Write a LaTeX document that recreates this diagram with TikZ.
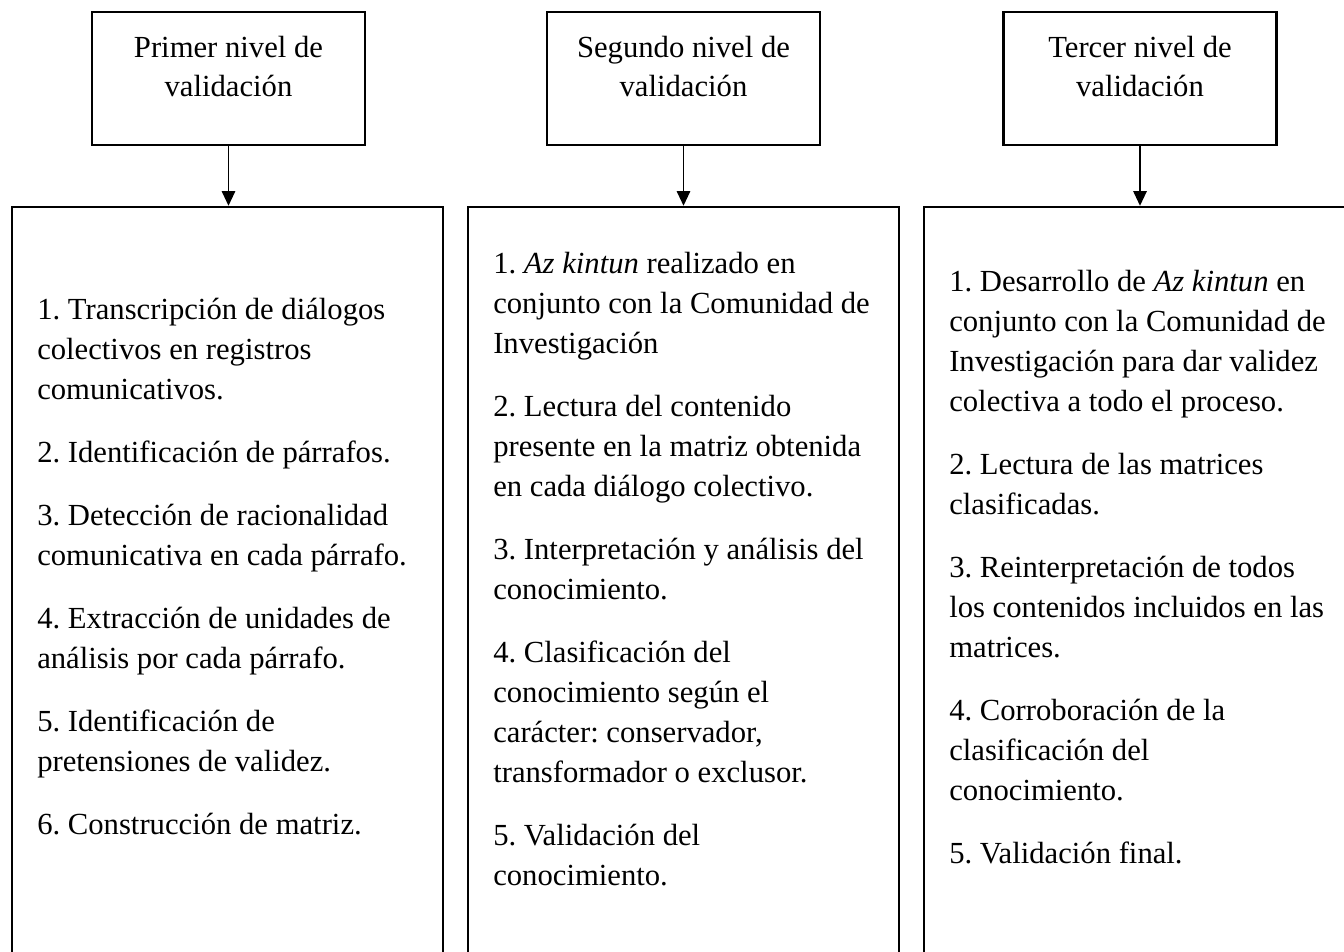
\documentclass[tikz,border=0pt]{standalone}
\usepackage{fontspec}
\setmainfont{Liberation Serif}
\usetikzlibrary{arrows.meta}
\frenchspacing
\begin{document}
\begin{tikzpicture}[x=0.75pt,y=-0.75pt,
 topbox/.style={draw,line width=1.8pt,minimum width=204.75pt,minimum height=99.75pt,inner sep=0pt},
 bigbox/.style={draw,line width=1.8pt,minimum width=323.25pt,minimum height=564.75pt,inner sep=0pt},
 toptext/.style={align=center,font=\fontsize{23}{29.5}\selectfont,inner sep=0pt},
 itemtext/.style={align=left,anchor=north west,font=\fontsize{23}{30}\selectfont,inner sep=0pt},
 link/.style={line width=1.3pt,-{Triangle[width=10pt,length=11pt]}}]
\useasboundingbox (0,0) rectangle (1344,951);
\clip (0,0) rectangle (1344,951);
% top boxes
\node[topbox] (t1) at (228.5,78.5) {};
\node[topbox] (t2) at (683.5,78.5) {};
\node[topbox] (t3) at (1140,78.5) {};
\node[toptext] (h1) at (228.5,66.5) {Primer nivel de\\validación};
\node[toptext] (h2) at (683.5,66.5) {Segundo nivel de\\validación};
\node[toptext] (h3) at (1140,66.5) {Tercer nivel de\\validación};
% bottom boxes
\node[bigbox] (b1) at (227.5,583.5) {};
\node[bigbox] (b2) at (683.5,583.5) {};
\node[bigbox] (b3) at (1139.5,583.5) {};
% arrows
\draw[link] (t1.south) -- (t1.south |- b1.north);
\draw[link] (t2.south) -- (t2.south |- b2.north);
\draw[link] (t3.south) -- (t3.south |- b3.north);
% texts
\node[itemtext] (x1) at (37,297.8) {1. Transcripción de diálogos\\colectivos en registros\\comunicativos.\\[17.25pt]
2. Identificación de párrafos.\\[17.25pt]
3. Detección de racionalidad\\comunicativa en cada párrafo.\\[17.25pt]
4. Extracción de unidades de\\análisis por cada párrafo.\\[17.25pt]
5. Identificación de\\pretensiones de validez.\\[17.25pt]
6. Construcción de matriz.};
\node[itemtext] (x2) at (493,251.8) {1. \textit{Az kintun} realizado en\\conjunto con la Comunidad de\\Investigación\\[17.25pt]
2. Lectura del contenido\\presente en la matriz obtenida\\en cada diálogo colectivo.\\[17.25pt]
3. Interpretación y análisis del\\conocimiento.\\[17.25pt]
4. Clasificación del\\conocimiento según el\\carácter: conservador,\\transformador o exclusor.\\[17.25pt]
5. Validación del\\conocimiento.};
\node[itemtext] (x3) at (949,269.8) {1. Desarrollo de \textit{Az kintun} en\\conjunto con la Comunidad de\\Investigación para dar validez\\colectiva a todo el proceso.\\[17.25pt]
2. Lectura de las matrices\\clasificadas.\\[17.25pt]
3. Reinterpretación de todos\\los contenidos incluidos en las\\matrices.\\[17.25pt]
4. Corroboración de la\\clasificación del\\conocimiento.\\[17.25pt]
5. Validación final.};
\end{tikzpicture}
\end{document}
